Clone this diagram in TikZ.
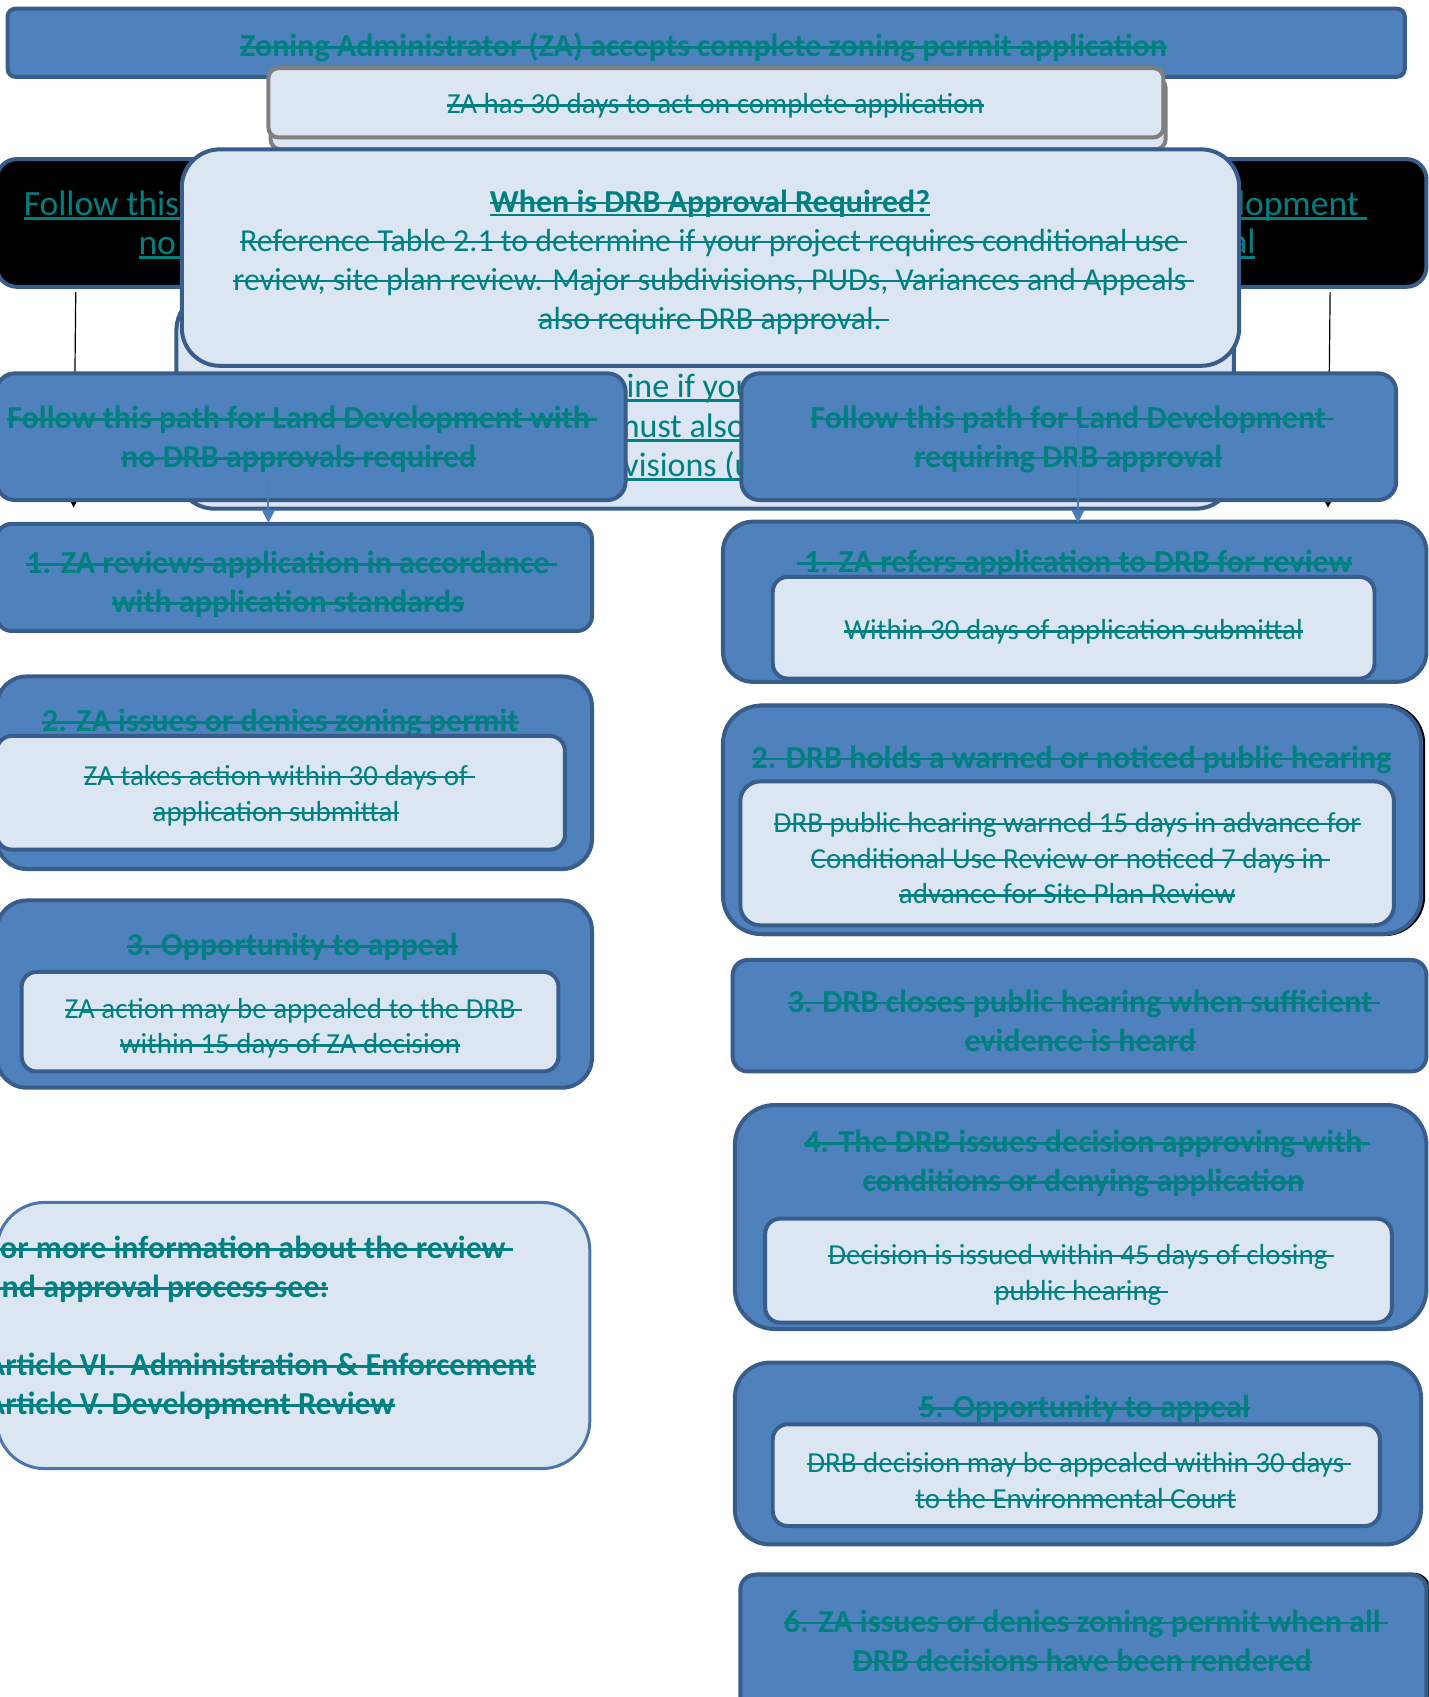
\documentclass[tikz,border=0pt]{standalone}
\usepackage{fontspec}
\setmainfont{Carlito}
\usetikzlibrary{fit,arrows.meta}
\definecolor{bfill}{HTML}{4F81BD}
\definecolor{bline}{HTML}{385D8A}
\definecolor{lfill}{HTML}{DCE6F2}
\definecolor{gline}{HTML}{7F7F7F}
\definecolor{tealtx}{HTML}{008080}
\definecolor{infoline}{HTML}{4A76AC}
\definecolor{arrblue}{HTML}{4A7EBB}
\newsavebox\strbox
\newcommand\stk[1]{\sbox\strbox{#1}\rlap{\rule[0.25em]{\wd\strbox}{0.08em}}\usebox\strbox}
\newcommand\stkt[1]{\stk{#1}\rlap{\rule[0.25em]{0.23em}{0.08em}}}
\newcommand\und[1]{\sbox\strbox{#1}\rlap{\rule[-0.13em]{\wd\strbox}{0.08em}}\usebox\strbox}
\newcommand\stund[1]{\sbox\strbox{#1}\rlap{\rule[-0.13em]{\wd\strbox}{0.08em}}\rlap{\rule[0.25em]{\wd\strbox}{0.08em}}\usebox\strbox}
\newcommand\fbold{\fontsize{32}{39}\selectfont\bfseries}
\newcommand\freg{\fontsize{29}{35.7}\selectfont}
\newcommand\fdrb{\fontsize{32}{39}\selectfont}
\newcommand\fbig{\fontsize{35.5}{39}\selectfont}
\newcommand\ffrag{\fontsize{34}{39}\selectfont}
\tikzset{
 outerbox/.style={draw=bline, fill=bfill, line width=4pt, inner sep=0pt},
 innerbox/.style={draw=bline, fill=lfill, line width=4pt, inner sep=0pt},
 graybox/.style={draw=gline, fill=lfill, line width=4pt, inner sep=0pt},
 blackbox/.style={draw=bline, fill=black, line width=4pt, inner sep=0pt},
 infobox/.style={draw=infoline, fill=lfill, line width=3pt, inner sep=0pt},
 shadowbox/.style={fill=black, draw=black, line width=4pt, inner sep=0pt},
 txt/.style={text=tealtx, align=center, inner sep=0pt, outer sep=0pt, yshift=-2.2pt},
 blackarr/.style={draw=black, line width=1.2pt, -{Triangle[width=7pt,length=7pt]}},
 bluearr/.style={draw=arrblue, line width=2pt, -{Triangle[width=13pt,length=13pt]}},
}
\begin{document}
\begin{tikzpicture}[x=1.0826pt,y=-1.0826pt]
\useasboundingbox (0,0) rectangle (1320,1568);
\clip (0,0) rectangle (1320,1568);
% top box
\node[outerbox, rounded corners=8pt, fit={(7,8)(1298,71)}] (top) {};
\node[txt, font=\fbold] (toptx) at (650,42) {\stk{Zoning Administrator (ZA) accepts complete zoning permit application}};
% ZA 30 days
\node[graybox, rounded corners=10pt, fit={(250,72)(1077,138)}] (zaback) {};
\node[graybox, rounded corners=10pt, fit={(248,63)(1075,127)}] (za) {};
\node[txt, font=\freg] (zatx) at (661,96) {\stk{ZA has 30 days to act on complete application}};
% black boxes
\node[blackbox, rounded corners=20pt, fit={(-3,147)(530,265)}] (lblack) {};
\node[blackbox, rounded corners=20pt, fit={(778,147)(1318,265)}] (rblack) {};
\node[txt, font=\fbig, anchor=west] (lbl1) at (22,188) {\und{Follow this path for Land Development with}};
\node[txt, font=\fbig, anchor=west] (lbl2) at (128,224) {\und{no DRB approvals required}};
\node[txt, font=\fbig, anchor=east] (rbl1) at (1263,188) {\und{Follow this path for Land Development\ }};
\node[txt, font=\fbig, anchor=east] (rbl2) at (1160,224) {\und{requiring DRB approval}};
% back DRB box
\node[innerbox, rounded corners=38pt, fit={(163,270)(1140,470)}] (drbback) {};
\node[txt, font=\ffrag, anchor=west] (fr1) at (579,357) {\und{ine if you}};
\node[txt, font=\ffrag, anchor=west] (fr2) at (566,393) {\und{must also}};
\node[txt, font=\ffrag, anchor=west] (fr3) at (576,429) {\und{visions (u}};
% front DRB box
\node[innerbox, rounded corners=38pt, fit={(168,138)(1145,338)}] (drb) {};
\node[txt, font=\fdrb] (drbtx) at (656,240) {{\bfseries\stund{When is DRB Approval Required?}}\\
 \stkt{Reference Table 2.1 to determine if your project requires conditional use}\\
 \stkt{review, site plan review. Major subdivisions, PUDs, Variances and Appeals}\\
 \stkt{also require DRB approval.}};
% black arrows
\coordinate (las) at (70,270); \coordinate (lae) at (68,469);
\coordinate (ras) at (1229,270); \coordinate (rae) at (1227,469);
\draw[blackarr] (las) -- (lae);
\draw[blackarr] (ras) -- (rae);
% follow boxes
\node[outerbox, rounded corners=18pt, fit={(-3,345)(578,462)}] (lfollow) {};
\node[txt, font=\fbold] (lfollowtx) at (276,404) {\stkt{Follow this path for Land Development with}\\ \stk{no DRB approvals required}};
\node[outerbox, rounded corners=18pt, fit={(685,345)(1290,462)}] (rfollow) {};
\node[txt, font=\fbold] (rfollowtx) at (987,404) {\stkt{Follow this path for Land Development}\\ \stk{requiring DRB approval}};
% left column
\node[outerbox, rounded corners=15pt, fit={(-3,484)(547,583)}] (l1) {};
\node[txt, font=\fbold] (l1tx) at (266,538) {\stkt{1. ZA reviews application in accordance}\\ \stk{with application standards}};
\node[outerbox, rounded corners=30pt, fit={(-3,625)(547,803)}] (l2) {};
\node[txt, font=\fbold] (l2tx) at (259,666) {\stk{2. ZA issues or denies zoning permit}};
\node[innerbox, rounded corners=15pt, fit={(-3,680)(522,785)}] (l2in) {};
\node[txt, font=\freg] (l2intx) at (255,733) {\stkt{ZA takes action within 30 days of}\\ \stk{application submittal}};
\node[outerbox, rounded corners=30pt, fit={(-3,832)(547,1005)}] (l3) {};
\node[txt, font=\fbold] (l3tx) at (270,873) {\stk{3. Opportunity to appeal}};
\node[innerbox, rounded corners=15pt, fit={(20,898)(516,990)}] (l3in) {};
\node[txt, font=\freg] (l3intx) at (268,948) {\stkt{ZA action may be appealed to the DRB}\\ \stk{within 15 days of ZA decision}};
\node[infobox, rounded corners=48pt, fit={(-3,1111)(545,1357)}] (info) {};
\node[txt, font=\fbold, align=left, anchor=west] (infotx) at (-13,1225) {\stkt{For more information about the review}\\ \stk{and approval process see:}\\ \mbox{}\\ \stk{Article VI.\ \ Administration \& Enforcement}\\ \stk{Article V. Development Review}};
% right column
\node[outerbox, rounded corners=30pt, fit={(668,482)(1318,630)}] (r1) {};
\node[txt, font=\fbold] (r1tx) at (993,519) {\stk{\ 1. ZA refers application to DRB for review}};
\node[innerbox, rounded corners=15pt, fit={(714,533)(1270,627)}] (r1in) {};
\node[txt, font=\freg] (r1intx) at (992,582) {\stk{Within 30 days of application submittal}};
\node[shadowbox, rounded corners=38pt, fit={(670,652)(1315,863)}] (r2sh) {};
\node[outerbox, rounded corners=38pt, fit={(668,652)(1313,863)}] (r2) {};
\node[txt, font=\fbold] (r2tx) at (990,700) {\stk{2. DRB holds a warned or noticed public hearing}};
\node[innerbox, rounded corners=20pt, fit={(684,722)(1288,855)}] (r2in) {};
\node[txt, font=\freg] (r2intx) at (986,791) {\stk{DRB public hearing warned 15 days in advance for}\\ \stkt{Conditional Use Review or noticed 7 days in}\\ \stk{advance for Site Plan Review}};
\node[outerbox, rounded corners=15pt, fit={(677,887)(1318,990)}] (r3) {};
\node[txt, font=\fbold] (r3tx) at (998,941) {\stkt{3. DRB closes public hearing when sufficient}\\ \stk{evidence is heard}};
\node[outerbox, rounded corners=40pt, fit={(679,1021)(1318,1228)}] (r4) {};
\node[txt, font=\fbold] (r4tx) at (1001,1073) {\stkt{4. The DRB issues decision approving with}\\ \stk{conditions or denying application}};
\node[innerbox, rounded corners=15pt, fit={(707,1126)(1286,1222)}] (r4in) {};
\node[txt, font=\freg] (r4intx) at (996,1176) {\stkt{Decision is issued within 45 days of closing}\\ \stkt{public hearing}};
\node[outerbox, rounded corners=35pt, fit={(679,1259)(1313,1427)}] (r5) {};
\node[txt, font=\fbold] (r5tx) at (1002,1300) {\stk{5. Opportunity to appeal}};
\node[innerbox, rounded corners=15pt, fit={(714,1316)(1275,1410)}] (r5in) {};
\node[txt, font=\freg] (r5intx) at (994,1366) {\stkt{DRB decision may be appealed within 30 days}\\ \stk{to the Environmental Court}};
\node[shadowbox, rounded corners=15pt, fit={(686,1455)(1320,1580)}] (r6sh) {};
\node[outerbox, rounded corners=15pt, fit={(684,1455)(1318,1580)}] (r6) {};
\node[txt, font=\fbold] (r6tx) at (1000,1514) {\stkt{6. ZA issues or denies zoning permit when all}\\ \stk{DRB decisions have been rendered}};
% blue arrows
\coordinate (lbs) at (248,443); \coordinate (lbe) at (248,483);
\coordinate (rbs) at (996,392); \coordinate (rbe) at (996,483);
\draw[bluearr] (lbs) -- (lbe);
\draw[bluearr] (rbs) -- (rbe);
\end{tikzpicture}
\end{document}
